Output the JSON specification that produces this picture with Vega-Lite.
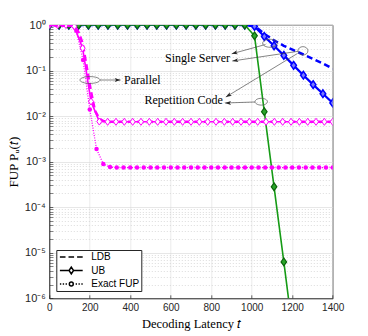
{
  "$schema": "https://vega.github.io/schema/vega-lite/v6.json",
  "width": 283.4,
  "height": 273.3,
  "autosize": {"type": "none"},
  "padding": {"left": 49.3, "top": 25, "right": 35.3, "bottom": 37.7},
  "background": "white",
  "config": {
    "view": {"stroke": "#262626", "strokeWidth": 0.8},
    "axis": {
      "labelFont": "Liberation Sans", "labelFontSize": 10, "labelColor": "#262626",
      "titleFont": "Liberation Serif", "titleFontSize": 12.5, "titleFontWeight": "normal", "titleColor": "black",
      "domainColor": "#262626", "domainWidth": 0.8, "gridColor": "#dcdcdc", "gridWidth": 0.6,
      "ticks": true, "tickColor": "#262626", "tickWidth": 0.7, "labelPadding": 4
    }
  },
  "datasets": {
    "curves": [
      {"s":"S","k":"LDB","t":0,"v":1},{"s":"S","k":"LDB","t":965.5,"v":1},{"s":"S","k":"LDB","t":1013.8,"v":0.95},{"s":"S","k":"LDB","t":1062.1,"v":0.64},{"s":"S","k":"LDB","t":1110.3,"v":0.46},{"s":"S","k":"LDB","t":1158.6,"v":0.35},{"s":"S","k":"LDB","t":1206.9,"v":0.28},{"s":"S","k":"LDB","t":1255.2,"v":0.225},{"s":"S","k":"LDB","t":1303.4,"v":0.18},{"s":"S","k":"LDB","t":1351.7,"v":0.143},{"s":"S","k":"LDB","t":1400,"v":0.11},
      {"s":"S","k":"UB","t":0,"v":1},{"s":"S","k":"UB","t":48.3,"v":1},{"s":"S","k":"UB","t":96.6,"v":1},{"s":"S","k":"UB","t":144.8,"v":1},{"s":"S","k":"UB","t":193.1,"v":1},{"s":"S","k":"UB","t":241.4,"v":1},{"s":"S","k":"UB","t":289.7,"v":1},{"s":"S","k":"UB","t":337.9,"v":1},{"s":"S","k":"UB","t":386.2,"v":1},{"s":"S","k":"UB","t":434.5,"v":1},{"s":"S","k":"UB","t":482.8,"v":1},{"s":"S","k":"UB","t":531,"v":1},{"s":"S","k":"UB","t":579.3,"v":1},{"s":"S","k":"UB","t":627.6,"v":1},{"s":"S","k":"UB","t":675.9,"v":1},{"s":"S","k":"UB","t":724.1,"v":1},{"s":"S","k":"UB","t":772.4,"v":1},{"s":"S","k":"UB","t":820.7,"v":1},{"s":"S","k":"UB","t":869,"v":1},{"s":"S","k":"UB","t":917.2,"v":1},{"s":"S","k":"UB","t":965.5,"v":1},{"s":"S","k":"UB","t":1013.8,"v":0.93},{"s":"S","k":"UB","t":1062.1,"v":0.56},{"s":"S","k":"UB","t":1110.3,"v":0.35},{"s":"S","k":"UB","t":1158.6,"v":0.215},{"s":"S","k":"UB","t":1206.9,"v":0.13},{"s":"S","k":"UB","t":1255.2,"v":0.079},{"s":"S","k":"UB","t":1303.4,"v":0.049},{"s":"S","k":"UB","t":1351.7,"v":0.031},{"s":"S","k":"UB","t":1400,"v":0.0195},
      {"s":"R","k":"UB","t":0,"v":1},{"s":"R","k":"UB","t":48.3,"v":1},{"s":"R","k":"UB","t":96.6,"v":1},{"s":"R","k":"UB","t":144.8,"v":1},{"s":"R","k":"UB","t":193.1,"v":1},{"s":"R","k":"UB","t":241.4,"v":1},{"s":"R","k":"UB","t":289.7,"v":1},{"s":"R","k":"UB","t":337.9,"v":1},{"s":"R","k":"UB","t":386.2,"v":1},{"s":"R","k":"UB","t":434.5,"v":1},{"s":"R","k":"UB","t":482.8,"v":1},{"s":"R","k":"UB","t":531,"v":1},{"s":"R","k":"UB","t":579.3,"v":1},{"s":"R","k":"UB","t":627.6,"v":1},{"s":"R","k":"UB","t":675.9,"v":1},{"s":"R","k":"UB","t":724.1,"v":1},{"s":"R","k":"UB","t":772.4,"v":1},{"s":"R","k":"UB","t":820.7,"v":1},{"s":"R","k":"UB","t":869,"v":1},{"s":"R","k":"UB","t":917.2,"v":1},{"s":"R","k":"UB","t":965.5,"v":1},{"s":"R","k":"UB","t":1013.8,"v":0.58},{"s":"R","k":"UB","t":1062.1,"v":0.0125},{"s":"R","k":"UB","t":1110.3,"v":0.00028},{"s":"R","k":"UB","t":1158.6,"v":0.0000063},{"s":"R","k":"UB","t":1206.9,"v":0.00000013},
      {"s":"P","k":"LDB","t":0,"v":1},{"s":"P","k":"LDB","t":123.5,"v":1},{"s":"P","k":"LDB","t":144,"v":0.7},{"s":"P","k":"LDB","t":164.7,"v":0.4},{"s":"P","k":"LDB","t":185,"v":0.12},{"s":"P","k":"LDB","t":205.9,"v":0.035},{"s":"P","k":"LDB","t":226,"v":0.013},{"s":"P","k":"LDB","t":247.1,"v":0.0088},{"s":"P","k":"LDB","t":268,"v":0.0078},{"s":"P","k":"LDB","t":300,"v":0.0075},{"s":"P","k":"LDB","t":1400,"v":0.0075},
      {"s":"P","k":"UB","t":0,"v":1},{"s":"P","k":"UB","t":41.2,"v":1},{"s":"P","k":"UB","t":82.4,"v":1},{"s":"P","k":"UB","t":123.5,"v":0.93},{"s":"P","k":"UB","t":164.7,"v":0.31},{"s":"P","k":"UB","t":205.9,"v":0.021},{"s":"P","k":"UB","t":247.1,"v":0.0076},{"s":"P","k":"UB","t":288.2,"v":0.0075},{"s":"P","k":"UB","t":329.4,"v":0.0075},{"s":"P","k":"UB","t":370.6,"v":0.0075},{"s":"P","k":"UB","t":411.8,"v":0.0075},{"s":"P","k":"UB","t":452.9,"v":0.0075},{"s":"P","k":"UB","t":494.1,"v":0.0075},{"s":"P","k":"UB","t":535.3,"v":0.0075},{"s":"P","k":"UB","t":576.5,"v":0.0075},{"s":"P","k":"UB","t":617.6,"v":0.0075},{"s":"P","k":"UB","t":658.8,"v":0.0075},{"s":"P","k":"UB","t":700,"v":0.0075},{"s":"P","k":"UB","t":741.2,"v":0.0075},{"s":"P","k":"UB","t":782.4,"v":0.0075},{"s":"P","k":"UB","t":823.5,"v":0.0075},{"s":"P","k":"UB","t":864.7,"v":0.0075},{"s":"P","k":"UB","t":905.9,"v":0.0075},{"s":"P","k":"UB","t":947.1,"v":0.0075},{"s":"P","k":"UB","t":988.2,"v":0.0075},{"s":"P","k":"UB","t":1029.4,"v":0.0075},{"s":"P","k":"UB","t":1070.6,"v":0.0075},{"s":"P","k":"UB","t":1111.8,"v":0.0075},{"s":"P","k":"UB","t":1152.9,"v":0.0075},{"s":"P","k":"UB","t":1194.1,"v":0.0075},{"s":"P","k":"UB","t":1235.3,"v":0.0075},{"s":"P","k":"UB","t":1276.5,"v":0.0075},{"s":"P","k":"UB","t":1317.6,"v":0.0075},{"s":"P","k":"UB","t":1358.8,"v":0.0075},{"s":"P","k":"UB","t":1400,"v":0.0075},
      {"s":"P","k":"Exact","t":0,"v":1},{"s":"P","k":"Exact","t":33.3,"v":1},{"s":"P","k":"Exact","t":66.7,"v":1},{"s":"P","k":"Exact","t":100,"v":1},{"s":"P","k":"Exact","t":133.3,"v":0.75},{"s":"P","k":"Exact","t":166.7,"v":0.17},{"s":"P","k":"Exact","t":200,"v":0.014},{"s":"P","k":"Exact","t":233.3,"v":0.0019},{"s":"P","k":"Exact","t":266.7,"v":0.00089},{"s":"P","k":"Exact","t":300,"v":0.00076},{"s":"P","k":"Exact","t":333.3,"v":0.00074},{"s":"P","k":"Exact","t":366.7,"v":0.00074},{"s":"P","k":"Exact","t":400,"v":0.00074},{"s":"P","k":"Exact","t":433.3,"v":0.00074},{"s":"P","k":"Exact","t":466.7,"v":0.00074},{"s":"P","k":"Exact","t":500,"v":0.00074},{"s":"P","k":"Exact","t":533.3,"v":0.00074},{"s":"P","k":"Exact","t":566.7,"v":0.00074},{"s":"P","k":"Exact","t":600,"v":0.00074},{"s":"P","k":"Exact","t":633.3,"v":0.00074},{"s":"P","k":"Exact","t":666.7,"v":0.00074},{"s":"P","k":"Exact","t":700,"v":0.00074},{"s":"P","k":"Exact","t":733.3,"v":0.00074},{"s":"P","k":"Exact","t":766.7,"v":0.00074},{"s":"P","k":"Exact","t":800,"v":0.00074},{"s":"P","k":"Exact","t":833.3,"v":0.00074},{"s":"P","k":"Exact","t":866.7,"v":0.00074},{"s":"P","k":"Exact","t":900,"v":0.00074},{"s":"P","k":"Exact","t":933.3,"v":0.00074},{"s":"P","k":"Exact","t":966.7,"v":0.00074},{"s":"P","k":"Exact","t":1000,"v":0.00074},{"s":"P","k":"Exact","t":1033.3,"v":0.00074},{"s":"P","k":"Exact","t":1066.7,"v":0.00074},{"s":"P","k":"Exact","t":1100,"v":0.00074},{"s":"P","k":"Exact","t":1133.3,"v":0.00074},{"s":"P","k":"Exact","t":1166.7,"v":0.00074},{"s":"P","k":"Exact","t":1200,"v":0.00074},{"s":"P","k":"Exact","t":1233.3,"v":0.00074},{"s":"P","k":"Exact","t":1266.7,"v":0.00074},{"s":"P","k":"Exact","t":1300,"v":0.00074},{"s":"P","k":"Exact","t":1333.3,"v":0.00074},{"s":"P","k":"Exact","t":1366.7,"v":0.00074},{"s":"P","k":"Exact","t":1400,"v":0.00074}
    ],
    "arrows": [
      {"id":"a1","t":901,"v":0.233,"t2":1068,"v2":0.373},
      {"id":"a2","t":904,"v":0.162,"t2":1230,"v2":0.265},
      {"id":"a3","t":872,"v":0.0262,"t2":1226,"v2":0.237},
      {"id":"a4","t":868,"v":0.0194,"t2":1016,"v2":0.0204},
      {"id":"a5","t":352,"v":0.062,"t2":250,"v2":0.062}
    ],
    "ellipses": [
      {"id":"e1","t":1090,"v":0.397},
      {"id":"e2","t":1253,"v":0.271},
      {"id":"e3","t":1047,"v":0.0207},
      {"id":"e4","t":201,"v":0.062}
    ],
    "notes": [
      {"text":"Single Server","side":"r","t":893,"v":0.1886},
      {"text":"Repetition Code","side":"r","t":857,"v":0.0231},
      {"text":"Parallel","side":"l","t":369,"v":0.062}
    ],
    "legendkeys": [{"k":"LDB"},{"k":"UB"},{"k":"Exact FUP"}]
  },
  "encoding": {
    "x": {"field": "t", "type": "quantitative",
      "scale": {"domain": [0, 1400], "nice": false, "zero": false},
      "axis": {"values": [0,200,400,600,800,1000,1200,1400], "format": "d", "title": "Decoding Latency 𝑡", "titlePadding": 5, "grid": true, "labelFlush": false, "tickSize": -3.5, "labelPadding": 7.5}},
    "y": {"field": "v", "type": "quantitative",
      "scale": {"type": "log", "domain": [0.000001, 1], "nice": false},
      "axis": {
        "values": [0.000001,0.000002,0.000003,0.000004,0.000005,0.000006,0.000007,0.000008,0.000009,0.00001,0.00002,0.00003,0.00004,0.00005,0.00006,0.00007,0.00008,0.00009,0.0001,0.0002,0.0003,0.0004,0.0005,0.0006,0.0007,0.0008,0.0009,0.001,0.002,0.003,0.004,0.005,0.006,0.007,0.008,0.009,0.01,0.02,0.03,0.04,0.05,0.06,0.07,0.08,0.09,0.1,0.2,0.3,0.4,0.5,0.6,0.7,0.8,0.9,1],
        "labelExpr": "abs(log(datum.value)/LN10 - round(log(datum.value)/LN10)) < 0.001 ? '10' + ['⁰','⁻¹','⁻²','⁻³','⁻⁴','⁻⁵','⁻⁶'][round(-log(datum.value)/LN10)] : ''",
        "labelOverlap": false,
        "labelFlush": false,
        "labelFontSize": 11,
        "labelPadding": 7.5,
        "tickSize": -3.5,
        "tickOpacity": {"condition": {"test": "abs(log(datum.value)/LN10 - round(log(datum.value)/LN10)) < 0.001", "value": 1}, "value": 0.8},
        "grid": true,
        "gridDash": {"condition": {"test": "abs(log(datum.value)/LN10 - round(log(datum.value)/LN10)) < 0.001", "value": []}, "value": [1, 2]},
        "gridColor": {"condition": {"test": "abs(log(datum.value)/LN10 - round(log(datum.value)/LN10)) < 0.001", "value": "#d6d6d6"}, "value": "#c4c4c4"},
        "title": "FUP Pᵤ(𝑡)", "titlePadding": 4, "titleFontSize": 13
      }}
  },
  "resolve": {"scale": {"shape": "independent"}},
  "layer": [
    {"data": {"name": "curves"}, "transform": [{"filter": "datum.s == 'S' && datum.k == 'LDB'"}],
     "mark": {"type": "line", "color": "#0000ff", "strokeWidth": 2.5, "strokeDash": [6, 3.5], "clip": true}},
    {"data": {"name": "curves"}, "transform": [{"filter": "datum.s == 'S' && datum.k == 'UB'"}],
     "mark": {"type": "line", "color": "#0000ff", "strokeWidth": 2.2, "clip": true}},
    {"data": {"name": "curves"}, "transform": [{"filter": "datum.s == 'S' && datum.k == 'UB'"}],
     "mark": {"type": "point", "shape": "M0,-1L0.72,0L0,1L-0.72,0Z", "size": 60, "fill": "#7a7aff", "stroke": "#0000ff", "strokeWidth": 1.5, "opacity": 1, "clip": true}},
    {"data": {"name": "curves"}, "transform": [{"filter": "datum.s == 'R'"}],
     "mark": {"type": "line", "color": "#169b16", "strokeWidth": 1.6, "clip": true}},
    {"data": {"name": "curves"}, "transform": [{"filter": "datum.s == 'R'"}],
     "mark": {"type": "point", "shape": "M0,-1L0.72,0L0,1L-0.72,0Z", "size": 60, "fill": "#2aa52a", "stroke": "#0a650a", "strokeWidth": 1.2, "opacity": 1, "clip": true}},
    {"data": {"name": "curves"}, "transform": [{"filter": "datum.s == 'P' && datum.k == 'LDB'"}],
     "mark": {"type": "line", "color": "#ff00ff", "strokeWidth": 2.5, "strokeDash": [6, 3.5], "clip": true}},
    {"data": {"name": "curves"}, "transform": [{"filter": "datum.s == 'P' && datum.k == 'UB'"}],
     "mark": {"type": "line", "color": "#ff00ff", "strokeWidth": 1.6, "clip": true}},
    {"data": {"name": "curves"}, "transform": [{"filter": "datum.s == 'P' && datum.k == 'UB'"}],
     "mark": {"type": "point", "shape": "M0,-1L0.72,0L0,1L-0.72,0Z", "size": 50, "fill": "white", "stroke": "#ff00ff", "strokeWidth": 1, "opacity": 1, "clip": true}},
    {"data": {"name": "curves"}, "transform": [{"filter": "datum.s == 'P' && datum.k == 'Exact'"}],
     "mark": {"type": "line", "color": "#ff00ff", "strokeWidth": 1.3, "strokeDash": [1, 1.5], "clip": true}},
    {"data": {"name": "curves"}, "transform": [{"filter": "datum.s == 'P' && datum.k == 'Exact'"}],
     "mark": {"type": "point", "shape": "circle", "size": 20, "filled": true, "color": "#ff00ff", "opacity": 1, "clip": true}},
    {"data": {"name": "arrows"},
     "mark": {"type": "rule", "color": "#333333", "strokeWidth": 0.6},
     "encoding": {"x2": {"field": "t2"}, "y2": {"field": "v2"}}},
    {"data": {"name": "arrows"},
     "mark": {"type": "point", "filled": true, "color": "#262626", "size": 4, "opacity": 1},
     "encoding": {"shape": {"field": "id", "type": "nominal", "legend": null,
       "scale": {"domain": ["a1","a2","a3","a4","a5"],
                 "range": ["M0,0L5.25,-3.52L4.34,-1.19L6.31,0.34Z", "M0,0L5.64,-2.85L4.45,-0.65L6.22,1.11Z", "M0,0L4.09,-4.82L3.85,-2.34L6.17,-1.4Z", "M0,0L6,-2L4.5,0L6,2Z", "M0,0L-6,-2L-4.5,0L-6,2Z"]}}}},
    {"data": {"name": "ellipses"},
     "mark": {"type": "point", "filled": false, "stroke": "#555555", "strokeWidth": 0.7, "size": 4, "opacity": 1},
     "encoding": {"shape": {"field": "id", "type": "nominal", "legend": null,
       "scale": {"domain": ["e1","e2","e3","e4"],
                 "range": ["M-7.3,0A7.3,4 0 1,0 7.3,0A7.3,4 0 1,0 -7.3,0Z", "M-5,0A5,4.2 0 1,0 5,0A5,4.2 0 1,0 -5,0Z", "M-6.2,0A6.2,3.4 0 1,0 6.2,0A6.2,3.4 0 1,0 -6.2,0Z", "M-10,0A10,3.4 0 1,0 10,0A10,3.4 0 1,0 -10,0Z"]}}}},
    {"data": {"name": "notes"}, "transform": [{"filter": "datum.side == 'r'"}],
     "mark": {"type": "text", "font": "Liberation Serif", "fontSize": 12, "align": "right", "baseline": "middle", "color": "black"},
     "encoding": {"text": {"field": "text"}}},
    {"data": {"name": "notes"}, "transform": [{"filter": "datum.side == 'l'"}],
     "mark": {"type": "text", "font": "Liberation Serif", "fontSize": 12, "align": "left", "baseline": "middle", "color": "black"},
     "encoding": {"text": {"field": "text"}}},
    {"data": {"name": "legendkeys"}, "transform": [{"filter": "false"}],
     "mark": {"type": "point", "filled": false, "stroke": "black", "strokeWidth": 1.5, "opacity": 1},
     "encoding": {
       "shape": {"field": "k", "type": "nominal",
         "scale": {"domain": ["LDB","UB","Exact FUP"], "range": [
           "M-3.8,0L-1.93,0M-0.93,0L0.93,0M1.93,0L3.8,0",
           "M-3.8,0L-0.75,0M0.75,0L3.8,0M0,-1.1L0.75,0L0,1.1L-0.75,0Z",
           "M-3.8,0L-3.35,0M-2.85,0L-2.4,0M-1.9,0L-1.45,0M1.45,0L1.9,0M2.4,0L2.85,0M3.35,0L3.8,0M0.65,0A0.65,0.65 0 1,1 -0.65,0A0.65,0.65 0 1,1 0.65,0Z"]},
         "legend": {"title": null, "orient": "bottom-left", "offset": 7, "padding": 2, "strokeColor": "#262626", "fillColor": "white",
           "labelFont": "Liberation Sans", "labelFontSize": 10, "labelColor": "black", "symbolSize": 36,
           "symbolOffset": 8, "labelOffset": 15, "rowPadding": 1.5,
           "encode": {"symbols": {"update": {
             "stroke": {"value": "black"},
             "strokeWidth": {"value": 1.6},
             "opacity": {"value": 1},
             "fill": [{"test": "datum.value === 'UB'", "value": "white"}, {"test": "datum.value === 'Exact FUP'", "value": "black"}, {"value": "transparent"}]
           }}}}}
     }}
  ]
}
